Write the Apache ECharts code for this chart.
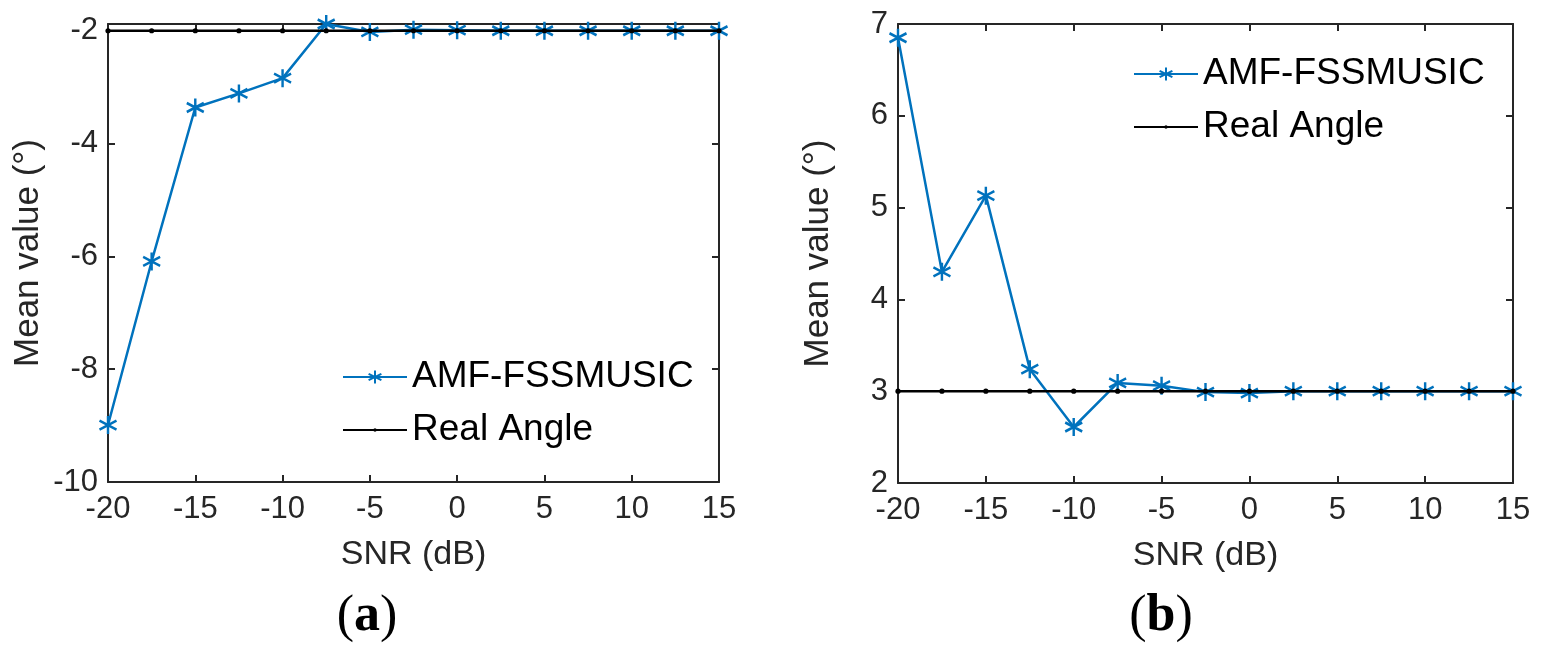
<!DOCTYPE html>
<html>
<head>
<meta charset="utf-8">
<script src="https://cdn.jsdelivr.net/npm/echarts@6/dist/echarts.min.js"></script>
<style>
html,body{margin:0;padding:0;background:#fff;}
#chart{width:1544px;height:653px;}
</style>
</head>
<body>
<div id="chart"></div>
<script>
// ---- data ----
var snr = [-20, -17.5, -15, -12.5, -10, -7.5, -5, -2.5, 0, 2.5, 5, 7.5, 10, 12.5, 15];
var amfA = [-8.99, -6.09, -3.36, -3.11, -2.84, -1.88, -2.02, -1.98, -1.99, -2.0, -2.0, -2.0, -2.0, -2.0, -2.0];
var realA = [-2, -2, -2, -2, -2, -2, -2, -2, -2, -2, -2, -2, -2, -2, -2];
var amfB = [6.85, 4.30, 5.13, 3.24, 2.61, 3.09, 3.06, 2.99, 2.98, 3.0, 3.0, 3.0, 3.0, 3.0, 3.0];
var realB = [3, 3, 3, 3, 3, 3, 3, 3, 3, 3, 3, 3, 3, 3, 3];
var xTicks = [-20, -15, -10, -5, 0, 5, 10, 15];
var yTicksA = [-10, -8, -6, -4, -2];
var yTicksB = [2, 3, 4, 5, 6, 7];
var seriesNames = ['AMF-FSSMUSIC', 'Real Angle'];
var panelLabels = ['a', 'b'];
var xName = 'SNR (dB)';
var yName = 'Mean value (\u00B0)';

function pairs(xs, ys) { return xs.map(function (x, i) { return [x, ys[i]]; }); }

var FONT = 'Liberation Sans';
var AX = '#262626';
var BLUE = '#0072BD';
var STAR = 'path://M0,-10L0,10M-8.66,-5L8.66,5M-8.66,5L8.66,-5';
// small dot inside a larger (invisible) box so legend and series dots stay small
var DOT = 'path://M-10,-10M10,10M-2.6,0A2.6,2.6,0,1,1,2.6,0A2.6,2.6,0,1,1,-2.6,0Z';

function xAxes(gi) {
  var base = {
    type: 'value', gridIndex: gi, min: xTicks[0], max: xTicks[xTicks.length - 1], interval: 5,
    splitLine: { show: false },
    axisLine: { onZero: false, lineStyle: { color: AX, width: 2 } },
    axisTick: { inside: true, length: 7, lineStyle: { color: AX, width: 2 } }
  };
  var bottom = Object.assign({}, base, {
    position: 'bottom', name: xName, nameLocation: 'middle', nameGap: 56,
    nameTextStyle: { fontFamily: FONT, fontSize: 34, color: AX },
    axisLabel: { fontFamily: FONT, fontSize: 31, color: AX, margin: 12 }
  });
  var top = Object.assign({}, base, { position: 'top', axisLabel: { show: false } });
  return [bottom, top];
}
function yAxes(gi, ticks, mx) {
  var base = {
    type: 'value', gridIndex: gi, min: ticks[0], max: mx, interval: ticks[1] - ticks[0],
    splitLine: { show: false },
    axisLine: { onZero: false, lineStyle: { color: AX, width: 2 } },
    axisTick: { inside: true, length: 7, lineStyle: { color: AX, width: 2 } }
  };
  var left = Object.assign({}, base, {
    position: 'left', name: yName, nameLocation: 'middle', nameGap: 62, nameRotate: 90,
    nameTextStyle: { fontFamily: FONT, fontSize: 35, color: AX },
    axisLabel: {
      fontFamily: FONT, fontSize: 31, color: AX, margin: 10, showMaxLabel: ticks.indexOf(mx) >= 0,
      formatter: function (v) { return ticks.indexOf(v) >= 0 ? String(v) : ''; }
    }
  });
  var right = Object.assign({}, base, { position: 'right', axisLabel: { show: false } });
  return [left, right];
}

function amfSeries(xi, yi, data) {
  return {
    name: seriesNames[0], type: 'line', xAxisIndex: xi, yAxisIndex: yi, data: pairs(snr, data),
    symbol: STAR, symbolSize: [17, 18], showAllSymbol: true,
    lineStyle: { color: BLUE, width: 2.5 },
    itemStyle: { color: BLUE, borderColor: BLUE, borderWidth: 2.5 },
    z: 2
  };
}
function realSeries(xi, yi, data) {
  return {
    name: seriesNames[1], type: 'line', xAxisIndex: xi, yAxisIndex: yi, data: pairs(snr, data),
    symbol: DOT, symbolSize: 20, showAllSymbol: true,
    lineStyle: { color: '#000', width: 2.5 },
    itemStyle: { color: '#000', borderWidth: 0 },
    z: 3
  };
}

var legendCommon = {
  orient: 'vertical', data: seriesNames, itemWidth: 64, itemHeight: 16, itemGap: 11,
  textStyle: { fontFamily: FONT, fontSize: 37, color: '#000', lineHeight: 42 },
  selectedMode: false
};

function panelText(label, x) {
  return { type: 'text', x: x, y: 617, style: {
    text: '{p|(}{b|' + label + '}{p|)}', align: 'center', verticalAlign: 'middle',
    rich: { p: { fontFamily: 'Liberation Serif', fontSize: 52, fill: '#000' },
            b: { fontFamily: 'Liberation Serif', fontSize: 52, fontWeight: 'bold', fill: '#000' } } } };
}

var option = {
  animation: false,
  backgroundColor: '#fff',
  grid: [
    { left: 108, right: 1544 - 719, top: 24, bottom: 653 - 482 },
    { left: 898, right: 1544 - 1513, top: 24, bottom: 653 - 483 }
  ],
  xAxis: xAxes(0).concat(xAxes(1)),
  yAxis: yAxes(0, yTicksA, -1.88).concat(yAxes(1, yTicksB, 7)),
  legend: [
    Object.assign({}, legendCommon, { left: 337, top: 351 }),
    Object.assign({}, legendCommon, { left: 1128, top: 48 })
  ],
  graphic: [ panelText(panelLabels[0], 367), panelText(panelLabels[1], 1161) ],
  series: [
    amfSeries(0, 0, amfA), realSeries(0, 0, realA),
    amfSeries(2, 2, amfB), realSeries(2, 2, realB)
  ]
};

var chart = echarts.init(document.getElementById('chart'), null, { renderer: 'canvas' });
chart.setOption(option);
</script>
</body>
</html>
